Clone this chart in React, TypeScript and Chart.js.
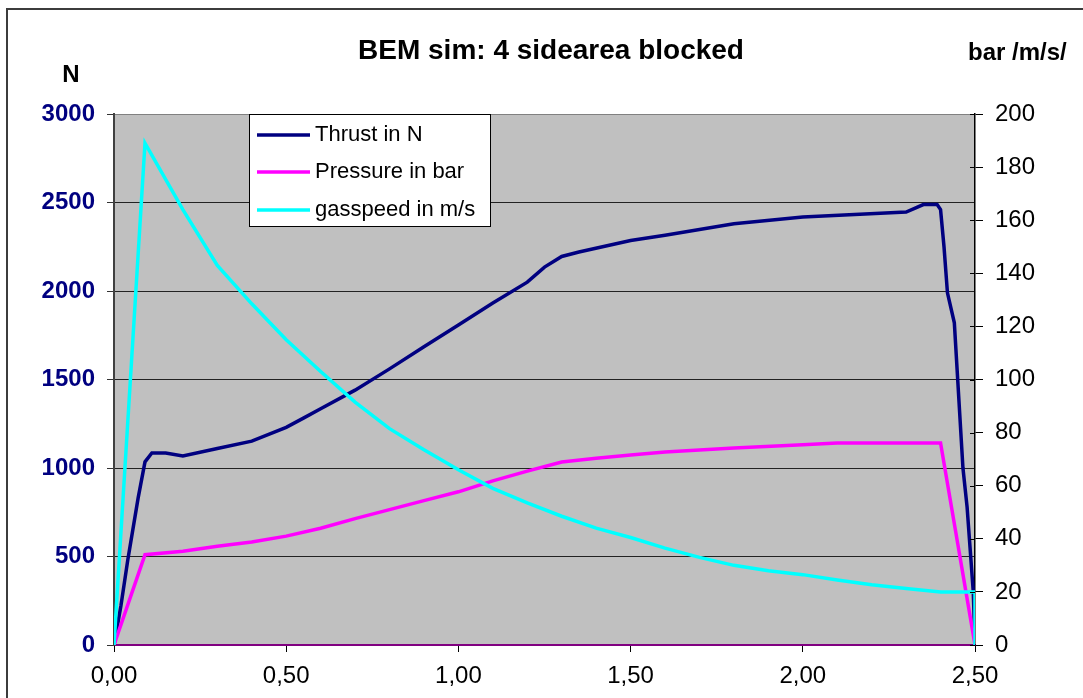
import React, { useEffect, useRef } from "react";
import { Chart, registerables } from "chart.js";

Chart.register(...registerables);

const FONT = "'Liberation Sans', Arial, Helvetica, sans-serif";

const titleText = "BEM sim: 4 sidearea blocked";
const leftUnit = "N";
const rightUnit = "bar /m/s/";
const seriesLabels = ["Thrust in N", "Pressure in bar", "gasspeed in m/s"];
const seriesColors = ["#000080", "#FF00FF", "#00FFFF"];

const thrustTime = [0, 0.02, 0.04, 0.07, 0.09, 0.11, 0.15, 0.2, 0.3, 0.4, 0.5, 0.55, 0.6, 0.7, 0.8, 0.9, 1.0, 1.1, 1.2, 1.25, 1.3, 1.35, 1.5, 1.6, 1.8, 2.0, 2.3, 2.35, 2.39, 2.4, 2.41, 2.42, 2.44, 2.465, 2.477, 2.495, 2.5];
const thrustN = [0, 220, 480, 830, 1035, 1085, 1085, 1068, 1110, 1152, 1230, 1282, 1335, 1440, 1560, 1685, 1808, 1932, 2050, 2135, 2195, 2220, 2285, 2315, 2380, 2418, 2446, 2488, 2488, 2460, 2250, 1990, 1820, 1000, 780, 300, 0];

const pressureTime = [0, 0.09, 0.2, 0.3, 0.4, 0.5, 0.6, 0.7, 0.8, 0.9, 1.0, 1.1, 1.2, 1.3, 1.4, 1.5, 1.6, 1.8, 2.0, 2.1, 2.4, 2.5];
const pressureBar = [0, 34, 35.3, 37.2, 38.8, 41, 44, 47.6, 51, 54.4, 57.7, 61.8, 65.5, 68.9, 70.3, 71.6, 72.7, 74.2, 75.4, 76.1, 76.1, 0];

const gasTime = [0, 0.09, 0.2, 0.3, 0.4, 0.5, 0.6, 0.7, 0.8, 0.9, 1.0, 1.1, 1.2, 1.3, 1.4, 1.5, 1.6, 1.7, 1.8, 1.9, 2.0, 2.1, 2.2, 2.3, 2.4, 2.5, 2.5];
const gasSpeed = [0, 189, 164, 143, 128.5, 115, 103, 91.5, 81.5, 73.5, 66, 59, 53.5, 48.5, 44, 40.5, 36.5, 33, 30, 28, 26.5, 24.5, 22.7, 21.3, 20, 20, 0];

const xMin = 0;
const xMax = 2.5;
const xStep = 0.5;
const leftMax = 3000;
const leftStep = 500;
const rightMax = 200;
const rightStep = 20;

const toPoints = (xs: number[], ys: number[]) => xs.map((x, i) => ({ x, y: ys[i] }));

const decorPlugin = {
  id: "decor",
  beforeDraw(chart: any) {
    const { ctx, chartArea } = chart;
    ctx.save();
    ctx.fillStyle = "#ffffff";
    ctx.fillRect(0, 0, chart.width, chart.height);
    ctx.strokeStyle = "#3c3c3c";
    ctx.lineWidth = 2;
    ctx.strokeRect(7, 9, chart.width + 10, chart.height + 10);
    ctx.fillStyle = "#C0C0C0";
    ctx.fillRect(chartArea.left, chartArea.top, chartArea.right - chartArea.left, chartArea.bottom - chartArea.top);
    ctx.restore();
  },
  afterDraw(chart: any) {
    const { ctx, chartArea } = chart;
    ctx.save();
    const y1 = chart.scales.y1;
    ctx.strokeStyle = "#000";
    ctx.lineWidth = 1;
    y1.ticks.forEach((t: any) => {
      const py = Math.round(y1.getPixelForValue(t.value)) + 0.5;
      ctx.beginPath();
      ctx.moveTo(chartArea.right - 5, py);
      ctx.lineTo(chartArea.right, py);
      ctx.stroke();
    });
    ctx.fillStyle = "#000";
    ctx.textBaseline = "alphabetic";
    ctx.font = `bold 28px ${FONT}`;
    ctx.textAlign = "center";
    ctx.fillText(titleText, 551, 59);
    ctx.font = `bold 24px ${FONT}`;
    ctx.fillText(leftUnit, 71, 82);
    ctx.textAlign = "left";
    ctx.fillText(rightUnit, 968, 60);
    const lx = 249.5, ly = 114.5, lw = 241, lh = 112;
    ctx.fillStyle = "#ffffff";
    ctx.fillRect(lx, ly, lw, lh);
    ctx.strokeStyle = "#000";
    ctx.lineWidth = 1;
    ctx.strokeRect(lx, ly, lw, lh);
    const rows = [135, 172, 210];
    ctx.font = `22px ${FONT}`;
    seriesLabels.forEach((label, i) => {
      ctx.strokeStyle = seriesColors[i];
      ctx.lineWidth = 3.5;
      ctx.beginPath();
      ctx.moveTo(257, rows[i]);
      ctx.lineTo(310, rows[i]);
      ctx.stroke();
      ctx.fillStyle = "#000";
      ctx.fillText(label, 315, rows[i] + 6);
    });
    ctx.restore();
  },
};

export default function App() {
  const canvasRef = useRef<HTMLCanvasElement | null>(null);

  useEffect(() => {
    if (!canvasRef.current) return;
    const chart = new Chart(canvasRef.current, {
      type: "line",
      data: {
        datasets: [
          {
            label: seriesLabels[0],
            data: toPoints(thrustTime, thrustN),
            yAxisID: "y",
            borderColor: seriesColors[0],
            backgroundColor: seriesColors[0],
            borderWidth: 3.5,
            pointRadius: 0,
            tension: 0,
            order: 3,
          },
          {
            label: seriesLabels[1],
            data: toPoints(pressureTime, pressureBar),
            yAxisID: "y1",
            borderColor: seriesColors[1],
            backgroundColor: seriesColors[1],
            borderWidth: 3.5,
            pointRadius: 0,
            tension: 0,
            order: 2,
          },
          {
            label: seriesLabels[2],
            data: toPoints(gasTime, gasSpeed),
            yAxisID: "y1",
            borderColor: seriesColors[2],
            backgroundColor: seriesColors[2],
            borderWidth: 3.5,
            pointRadius: 0,
            tension: 0,
            order: 1,
          },
        ],
      },
      options: {
        animation: false,
        responsive: false,
        maintainAspectRatio: false,
        layout: { padding: { top: 114, left: 0, right: 0, bottom: 0 } },
        plugins: {
          legend: { display: false },
          title: { display: false },
          tooltip: { enabled: false },
        },
        scales: {
          x: {
            type: "linear",
            min: xMin,
            max: xMax,
            ticks: {
              stepSize: xStep,
              autoSkip: false,
              maxRotation: 0,
              color: "#000",
              padding: 10,
              font: { family: FONT, size: 24 },
              callback: (v: any) => Number(v).toFixed(2).replace(".", ","),
            },
            grid: { drawOnChartArea: false, tickLength: 7, color: "#000", tickColor: "#000" },
            border: { color: "#800080", width: 2 },
            afterFit: (s: any) => {
              s.height = 53;
            },
          },
          y: {
            position: "left",
            min: 0,
            max: leftMax,
            ticks: {
              stepSize: leftStep,
              color: "#000080",
              padding: 12,
              font: { family: FONT, size: 24, weight: "bold" },
              callback: (v: any) => String(Math.round(Number(v))),
            },
            grid: {
              tickLength: 7,
              lineWidth: 1,
              tickColor: "#333",
              color: (c: any) =>
                c.tick && c.tick.value === 0
                  ? "rgba(0,0,0,0)"
                  : c.tick && c.tick.value === leftMax
                  ? "#808080"
                  : "#222",
            },
            border: { color: "#404040", width: 2 },
            afterFit: (s: any) => {
              s.width = 114;
            },
          },
          y1: {
            position: "right",
            min: 0,
            max: rightMax,
            ticks: {
              stepSize: rightStep,
              color: "#000",
              padding: 12,
              font: { family: FONT, size: 24 },
              callback: (v: any) => String(Math.round(Number(v))),
            },
            grid: { drawOnChartArea: false, tickLength: 8, color: "#000", tickColor: "#000" },
            border: { color: "#000", width: 1.5 },
            afterFit: (s: any) => {
              s.width = 108;
            },
          },
        },
      } as any,
      plugins: [decorPlugin],
    });
    return () => chart.destroy();
  }, []);

  return (
    <div style={{ position: "absolute", left: 0, top: 0, width: 1083, height: 698 }}>
      <canvas ref={canvasRef} width={1083} height={698} style={{ display: "block" }} />
    </div>
  );
}
